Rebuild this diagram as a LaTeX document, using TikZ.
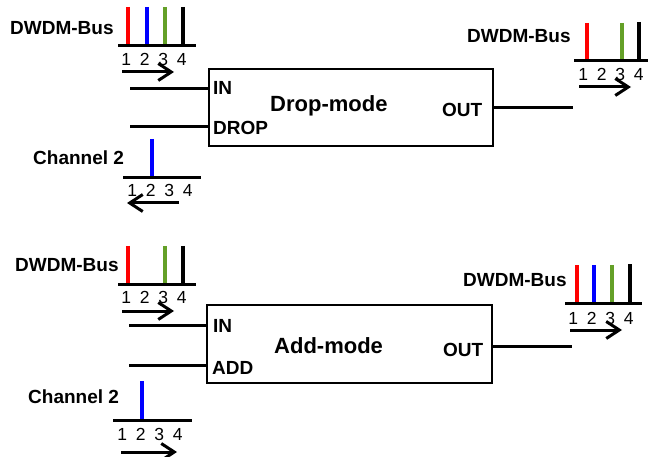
\documentclass[tikz,border=0pt]{standalone}
\usepackage{fontspec}
\setmainfont{Liberation Sans}
\usetikzlibrary{arrows.meta}
\definecolor{busred}{RGB}{255,0,0}
\definecolor{busblue}{RGB}{0,0,255}
\definecolor{busgreen}{RGB}{100,160,40}
\newcommand\lblfont{\fontsize{19}{19}\selectfont\bfseries}
\newcommand\titlefont{\fontsize{22}{22}\selectfont\bfseries}
\newcommand\numfont{\fontsize{17.5}{17.5}\selectfont}
\newcommand\chnums{1\hspace{8.8pt}2\hspace{8.8pt}3\hspace{8.8pt}4}
\tikzset{
  bar/.style={line width=4pt},
  busline/.style={line width=3pt},
  wire/.style={line width=3pt},
  flow/.style={line width=3pt,-{Straight Barb[length=13pt,width=17pt]}},
  lbl/.style={font=\lblfont,inner sep=0pt,anchor=base west},
  ttl/.style={font=\titlefont,inner sep=0pt,anchor=base west},
  nums/.style={font=\numfont,inner sep=0pt,anchor=base west},
  modebox/.style={draw,line width=2.5pt,minimum width=284pt,minimum height=77pt,inner sep=0pt}
}
\begin{document}
\begin{tikzpicture}[x=1pt,y=-1pt]
\useasboundingbox (0,0) rectangle (648,457);

% ---------- Drop mode ----------
\node[modebox] (box1) at (351,107.5) {};
\node[ttl] (t1) at (270,112) {Drop-mode};
\node[lbl] (in1l) at (213,95) {IN};
\node[lbl] (drop1l) at (213,135) {DROP};
\node[lbl] (out1l) at (442,117) {OUT};
\coordinate (in1) at (130,89);
\coordinate (drop1) at (130,127);
\coordinate (out1) at (573,108);
\draw[wire] (in1) -- (in1 -| box1.west);
\draw[wire] (drop1) -- (drop1 -| box1.west);
\draw[wire] (out1 -| box1.east) -- (out1);

% top-left bus
\node[lbl] (bus1) at (10,35) {DWDM-Bus};
\draw[bar,busred] (128,7) -- (128,46);
\draw[bar,busblue] (147,7) -- (147,46);
\draw[bar,busgreen] (165,7) -- (165,46);
\draw[bar,black] (183,7) -- (183,46);
\draw[busline] (118,46) -- (196,46);
\node[nums] (n1) at (121.1,66) {\chnums};
\coordinate (a1s) at (122,72); \coordinate (a1e) at (174,72);
\draw[flow] (a1s) -- (a1e);

% drop channel
\node[lbl] (ch1) at (33,165) {Channel 2};
\draw[bar,busblue] (152,139) -- (152,178);
\draw[busline] (123,178) -- (201,178);
\node[nums] (n2) at (127.1,197) {\chnums};
\coordinate (a2s) at (179,203); \coordinate (a2e) at (127,203);
\draw[flow] (a2s) -- (a2e);

% top-right bus
\node[lbl] (bus2) at (467,43) {DWDM-Bus};
\draw[bar,busred] (587,23) -- (587,61);
\draw[bar,busgreen] (622,23) -- (622,61);
\draw[bar,black] (639,22) -- (639,61);
\draw[busline] (574,61) -- (648,61);
\node[nums] (n3) at (578.1,81) {\chnums};
\coordinate (a3s) at (579,87); \coordinate (a3e) at (631,87);
\draw[flow] (a3s) -- (a3e);

% ---------- Add mode ----------
\node[modebox,minimum width=285pt,minimum height=78pt] (box2) at (349.5,344) {};
\node[ttl] (t2) at (274,353) {Add-mode};
\node[lbl] (in2l) at (213,332) {IN};
\node[lbl] (add2l) at (212,374) {ADD};
\node[lbl] (out2l) at (443,356) {OUT};
\coordinate (in2) at (129,325);
\coordinate (add2) at (129,365);
\coordinate (out2) at (572,346);
\draw[wire] (in2) -- (in2 -| box2.west);
\draw[wire] (add2) -- (add2 -| box2.west);
\draw[wire] (out2 -| box2.east) -- (out2);

% bottom-left bus
\node[lbl] (bus3) at (15,272) {DWDM-Bus};
\draw[bar,busred] (128,246) -- (128,284);
\draw[bar,busgreen] (165,246) -- (165,284);
\draw[bar,black] (183,246) -- (183,284);
\draw[busline] (118,284) -- (196,284);
\node[nums] (n4) at (121.1,303) {\chnums};
\coordinate (a4s) at (122,311); \coordinate (a4e) at (174,311);
\draw[flow] (a4s) -- (a4e);

% add channel
\node[lbl] (ch2) at (28,403) {Channel 2};
\draw[bar,busblue] (142,381) -- (142,420);
\draw[busline] (113,420) -- (192,420);
\node[nums] (n5) at (117.1,440) {\chnums};
\coordinate (a5s) at (121,452); \coordinate (a5e) at (177,452);
\draw[flow] (a5s) -- (a5e);

% bottom-right bus
\node[lbl] (bus4) at (463,286) {DWDM-Bus};
\draw[bar,busred] (577,265) -- (577,303);
\draw[bar,busblue] (594,265) -- (594,303);
\draw[bar,busgreen] (612,265) -- (612,303);
\draw[bar,black] (630,264) -- (630,303);
\draw[busline] (565,303) -- (642,303);
\node[nums] (n6) at (568.1,324) {\chnums};
\coordinate (a6s) at (570,330); \coordinate (a6e) at (622,330);
\draw[flow] (a6s) -- (a6e);
\end{tikzpicture}
\end{document}
